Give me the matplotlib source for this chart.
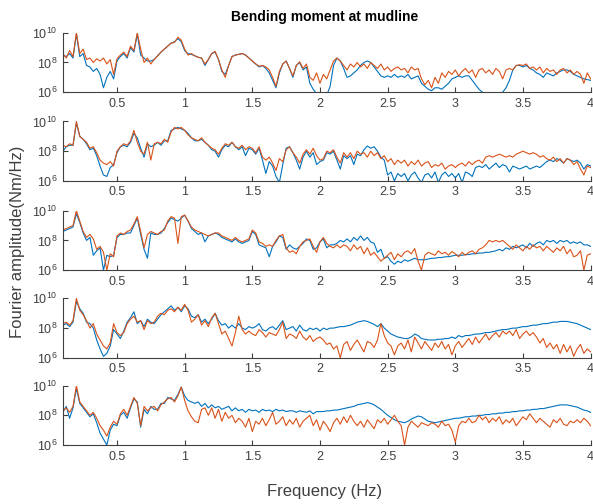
import numpy as np
import matplotlib.pyplot as plt

plt.rcParams['font.family'] = ['Liberation Sans', 'DejaVu Sans']
plt.rcParams['mathtext.fontset'] = 'custom'
plt.rcParams['mathtext.rm'] = 'Liberation Sans'

# frequency grid (Hz), 0.1 to 4.0 in steps of 0.025
freq = np.round(np.arange(0.1, 4.0001, 0.025), 3)

# log10 of Fourier amplitude (4 values per 0.1 Hz)
p1_blue = [8.5, 8.4, 8.6, 8.3, 9.9, 8.4, 8.6, 7.8, 7.7, 7.4, 7.6, 7.2, 6.3, 7.0, 7.4, 6.9,
           8.1, 8.4, 8.6, 8.3, 9.0, 8.7, 9.9, 8.5, 8.3, 8.1, 8.1, 8.2, 8.45, 8.7, 8.9, 9.1,
           9.3, 9.4, 9.6, 9.4, 8.8, 8.6, 8.55, 8.45, 8.35, 8.3, 7.8, 8.2, 8.6, 8.7, 8.2, 7.4,
           7.2, 7.8, 8.4, 8.5, 8.55, 8.6, 8.5, 8.3, 8.1, 7.9, 7.7, 7.8, 7.6, 7.3, 6.8, 6.3,
           7.3, 7.9, 8.1, 7.6, 7.0, 7.8, 8.0, 7.5, 7.7, 6.6, 6.2, 5.9, 5.8, 5.9, 5.8, 6.4,
           7.8, 8.3, 8.1, 7.6, 7.0, 7.1, 7.3, 7.5, 7.8, 8.0, 8.1, 8.0, 7.7, 7.4, 7.1, 7.0,
           7.1, 7.0, 7.2, 7.0, 7.1, 7.0, 7.2, 6.9, 7.0, 7.1, 6.6, 6.4, 6.2, 6.1, 6.3, 6.3,
           6.2, 6.4, 6.6, 6.9, 7.0, 7.1, 7.0, 7.1, 7.1, 6.8, 6.5, 6.2, 6.0, 5.9, 5.9, 5.9,
           5.95, 5.9, 6.0, 6.3, 6.8, 7.5, 7.8, 7.8, 7.7, 7.8, 7.6, 7.5, 7.3, 7.2, 7.0, 7.3,
           7.2, 7.1, 7.3, 7.4, 7.5, 7.5, 7.4, 7.2, 7.1, 7.0, 6.9, 6.85, 6.8]
p1_orange = [8.6, 8.3, 8.8, 8.4, 10.0, 8.6, 8.9, 8.2, 8.3, 8.0, 8.25, 8.1, 8.3, 7.9, 8.2, 7.2,
             8.25, 8.5, 8.7, 8.4, 9.1, 8.8, 10.0, 8.9, 8.0, 8.3, 7.9, 8.2, 8.45, 8.7, 8.9, 9.1,
             9.3, 9.35, 9.7, 9.5, 8.9, 8.5, 8.6, 8.45, 8.35, 8.3, 7.9, 8.2, 8.6, 8.75, 8.2, 7.5,
             7.0, 7.8, 8.4, 8.5, 8.55, 8.6, 8.5, 8.3, 8.1, 7.9, 7.75, 7.8, 7.7, 7.5, 7.0, 6.4,
             7.4, 7.9, 8.1, 7.6, 7.1, 7.8, 8.05, 7.6, 7.9, 7.0, 6.8, 7.3, 6.6, 7.2, 6.9, 7.5,
             8.1, 8.3, 8.1, 7.8, 7.5, 7.9, 7.7, 8.0, 7.7, 7.9, 7.6, 8.0, 7.8, 7.6, 7.9, 7.5,
             7.7, 7.4, 7.6, 7.7, 7.5, 7.6, 7.3, 7.7, 7.5, 7.6, 6.9, 6.5, 6.8, 6.3, 7.0, 6.6,
             7.3, 7.0, 7.4, 7.2, 7.5, 7.1, 7.4, 7.6, 7.3, 7.5, 7.0, 7.5, 7.6, 7.3, 7.5, 7.2,
             7.6, 7.4, 6.9, 7.5, 7.6, 7.5, 7.8, 7.85, 7.8, 7.9, 7.6, 7.7, 7.5, 7.7, 7.3, 7.6,
             7.4, 7.5, 7.2, 7.5, 7.6, 7.3, 7.5, 7.2, 7.4, 7.2, 6.6, 7.3, 6.9]

p2_blue = [8.0, 8.3, 8.4, 8.4, 9.9, 9.0, 8.8, 8.5, 8.1, 8.2, 7.7, 7.0, 6.4, 6.3, 6.9, 7.1,
           7.9, 8.3, 8.4, 8.3, 8.6, 9.2, 8.9, 8.2, 7.6, 8.5, 8.3, 8.4, 8.6, 8.4, 8.7, 8.7,
           9.4, 9.5, 9.6, 9.5, 9.4, 9.2, 8.9, 8.7, 8.7, 8.8, 8.6, 8.4, 8.1, 8.0, 7.6, 8.1,
           8.4, 8.3, 8.6, 8.3, 8.1, 8.3, 7.7, 8.2, 8.1, 7.8, 8.2, 7.4, 6.5, 7.3, 7.0, 6.3,
           5.9, 7.1, 8.2, 8.3, 7.9, 7.4, 6.8, 7.6, 8.0, 7.6, 7.9, 7.1, 7.3, 7.4, 7.9, 7.8,
           8.0, 7.4, 6.8, 7.7, 7.5, 7.7, 7.1, 7.8, 7.7, 8.1, 8.35, 8.2, 8.3, 8.0, 7.6, 7.4,
           6.4, 6.6, 6.0, 6.5, 6.3, 6.5, 6.0, 6.4, 6.6, 6.2, 5.9, 6.4, 6.5, 6.2, 6.6, 5.9,
           6.4, 6.6, 6.3, 6.5, 6.2, 6.5, 5.9, 6.6, 6.5, 6.3, 6.9, 7.0, 6.9, 7.1, 6.8, 7.0,
           7.2, 6.9, 7.1, 7.0, 6.6, 7.0, 6.9, 6.8, 6.9, 7.0, 6.8, 6.9, 7.0, 6.9, 7.1, 7.3,
           7.4, 7.3, 7.5, 7.4, 7.2, 7.5, 7.4, 7.3, 7.4, 7.2, 6.8, 7.1, 7.0]
p2_orange = [8.4, 8.3, 8.5, 8.4, 10.0, 9.0, 8.8, 8.6, 8.2, 8.3, 7.9, 7.4, 7.2, 7.1, 7.3, 7.0,
             8.0, 8.3, 8.5, 8.4, 8.7, 9.4, 8.6, 8.0, 7.8, 8.6, 7.4, 8.5, 8.6, 8.5, 8.8, 8.6,
             9.3, 9.6, 9.5, 9.6, 9.4, 9.1, 8.9, 8.8, 8.7, 8.9, 8.6, 8.4, 8.2, 8.1, 7.8, 8.2,
             8.5, 8.4, 8.6, 8.3, 8.2, 8.4, 8.1, 8.3, 8.2, 7.9, 8.3, 7.6, 7.4, 7.6, 7.2, 6.7,
             7.5, 7.3, 8.1, 8.3, 7.9, 7.6, 7.2, 7.8, 8.1, 7.8, 8.2, 7.7, 7.4, 7.5, 8.0, 7.9,
             8.1, 7.6, 7.2, 7.9, 7.6, 7.9, 7.5, 8.0, 7.8, 7.9, 7.6, 8.0, 7.7, 7.9, 7.5, 7.7,
             7.3, 7.5, 7.1, 7.4, 7.2, 7.4, 7.0, 7.3, 7.1, 7.4, 7.0, 7.2, 7.3, 6.9, 7.1, 7.0,
             7.2, 6.8, 7.0, 7.1, 6.9, 7.1, 7.2, 7.0, 7.3, 7.1, 7.3, 7.4, 7.2, 7.6, 7.7, 7.6,
             7.7, 7.8, 7.7, 7.6, 7.7, 7.6, 7.8, 7.9, 8.0, 7.9, 7.8, 7.9, 7.8, 7.6, 7.7, 7.5,
             7.4, 7.6, 7.3, 7.5, 7.2, 7.5, 7.4, 7.1, 7.3, 6.8, 6.4, 7.0, 6.9]

p3_blue = [8.6, 8.7, 8.8, 8.9, 9.8, 9.2, 8.5, 8.0, 8.2, 7.0, 7.3, 7.5, 6.0, 7.0, 6.9, 7.0,
           8.2, 8.4, 8.4, 8.5, 8.5, 9.0, 9.5, 8.4, 7.4, 6.8, 8.5, 8.4, 8.4, 8.5, 8.8, 9.2,
           9.5, 9.4, 9.3, 9.5, 9.7, 9.3, 8.8, 8.6, 8.4, 8.5, 7.9, 8.3, 8.4, 8.5, 8.4, 8.2,
           8.1, 8.0, 7.9, 8.1, 7.9, 7.8, 7.9, 8.0, 8.6, 8.4, 7.7, 7.6, 7.5, 6.9, 7.6, 7.9,
           8.3, 8.2, 7.4, 7.7, 7.5, 7.4, 7.6, 7.8, 8.1, 8.0, 7.4, 7.5, 7.9, 8.1, 7.5, 7.7,
           7.7, 7.8, 8.0, 7.9, 8.1, 7.9, 8.2, 8.0, 8.3, 8.0, 8.2, 7.9, 7.8, 7.2, 7.4, 6.8,
           6.9, 6.6, 6.4, 6.6, 6.5, 6.7, 6.6, 6.7, 6.8, 6.7, 6.7, 6.7, 6.75, 6.8, 6.8, 6.85,
           6.85, 6.9, 6.9, 6.95, 7.0, 7.0, 7.0, 7.05, 7.05, 7.1, 7.1, 7.15, 7.15, 7.2, 7.2, 7.25,
           7.3, 7.4, 7.3, 7.5, 7.4, 7.6, 7.5, 7.6, 7.7, 7.5, 7.8, 7.6, 7.8, 7.9, 7.7, 8.0,
           7.9, 8.0, 7.8, 8.0, 7.9, 8.0, 7.8, 7.9, 7.8, 7.9, 7.7, 7.7, 7.6]
p3_orange = [8.7, 8.8, 8.9, 9.0, 10.0, 9.3, 8.6, 8.2, 8.4, 8.1, 7.4, 7.6, 7.2, 6.0, 7.1, 6.9,
             8.3, 8.5, 8.4, 8.6, 8.7, 9.1, 9.6, 8.6, 7.5, 8.4, 8.6, 8.5, 8.4, 8.6, 8.7, 9.3,
             9.6, 9.5, 7.8, 9.6, 9.7, 9.3, 8.9, 8.7, 8.6, 8.5, 8.4, 8.3, 8.4, 8.5, 8.5, 8.3,
             8.2, 8.1, 8.0, 8.2, 8.0, 7.9, 8.0, 8.1, 8.7, 8.5, 7.9, 7.8, 7.6, 7.7, 7.6, 8.0,
             8.3, 8.4, 7.5, 7.2, 7.3, 7.1, 7.6, 7.9, 8.0, 8.1, 7.6, 7.2, 7.9, 8.2, 7.8, 7.6,
             7.5, 7.7, 7.5, 7.7, 7.6, 7.3, 7.7, 7.4, 7.6, 7.1, 7.5, 7.0, 7.2, 6.9, 6.6, 6.8,
             7.0, 7.2, 6.7, 7.1, 6.9, 7.2, 7.3, 7.1, 7.45, 6.6, 6.0, 7.0, 7.2, 7.1, 7.0, 7.3,
             7.1, 7.2, 7.0, 7.25, 7.1, 6.9, 7.2, 7.0, 7.2, 7.3, 7.1, 7.4, 7.5, 7.7, 8.0, 7.9,
             8.0, 7.9, 8.0, 7.8, 7.6, 7.4, 7.7, 7.5, 7.3, 7.6, 7.4, 7.7, 7.5, 7.6, 7.3, 7.6,
             7.4, 7.2, 7.5, 7.3, 7.6, 7.1, 7.4, 6.9, 7.0, 7.3, 6.0, 7.0, 7.1]

p4_blue = [8.2, 8.3, 8.1, 8.4, 9.8, 9.3, 9.0, 8.4, 8.3, 8.0, 7.2, 6.6, 6.1, 6.3, 6.8, 7.9,
           7.6, 7.3, 7.8, 8.4, 8.7, 9.1, 8.3, 8.5, 8.1, 8.6, 8.4, 8.3, 8.6, 8.9, 9.1, 9.3,
           9.5, 9.2, 9.4, 9.1, 9.5, 9.3, 8.8, 8.7, 8.9, 8.4, 8.6, 8.3, 8.6, 9.0, 8.5, 8.2,
           8.3, 8.0, 8.2, 8.0, 8.3, 8.0, 7.9, 8.1, 8.0, 8.1, 8.3, 7.9, 7.8, 8.0, 8.1, 7.9,
           8.2, 8.5, 7.9, 8.0, 8.1, 7.8, 8.2, 7.9, 7.8, 8.0, 7.9, 8.0, 7.8, 8.0, 7.9, 8.0,
           8.0, 8.05, 8.1, 8.1, 8.15, 8.2, 8.3, 8.4, 8.45, 8.5, 8.45, 8.35, 8.25, 8.1, 8.3, 8.0,
           7.8, 7.6, 7.5, 7.4, 7.35, 7.3, 7.3, 7.4, 7.6, 7.5, 7.3, 7.25, 7.2, 7.2, 7.2, 7.25,
           7.25, 7.3, 7.3, 7.4, 7.3, 7.5, 7.4, 7.5, 7.5, 7.55, 7.6, 7.6, 7.65, 7.7, 7.7, 7.75,
           7.8, 7.85, 7.9, 7.9, 7.95, 8.0, 8.0, 8.05, 8.1, 8.1, 8.15, 8.2, 8.2, 8.25, 8.3, 8.3,
           8.35, 8.4, 8.4, 8.45, 8.45, 8.45, 8.4, 8.35, 8.3, 8.2, 8.1, 8.0, 7.9]
p4_orange = [8.3, 8.4, 8.2, 8.5, 10.0, 9.2, 8.9, 8.5, 8.0, 8.3, 7.6, 7.2, 6.8, 6.6, 7.0, 8.3,
             7.7, 7.5, 7.7, 8.3, 8.6, 8.8, 8.4, 8.5, 7.9, 8.5, 8.3, 8.4, 8.8, 9.0, 8.9, 9.2,
             9.3, 9.1, 9.4, 9.2, 9.6, 9.2, 8.4, 8.6, 8.9, 8.2, 8.5, 8.1, 8.7, 9.0, 8.3, 7.6,
             7.8, 7.3, 6.8, 7.7, 8.8, 7.9, 7.6, 7.8, 7.6, 7.5, 7.9, 7.7, 7.4, 7.7, 7.6, 7.5,
             7.9, 8.4, 7.3, 7.6, 7.5, 7.3, 7.8, 7.4, 7.2, 7.5, 7.1, 7.3, 7.4, 7.2, 6.9, 7.0,
             6.6, 6.8, 6.0, 6.9, 7.1, 6.5, 6.9, 7.2, 6.8, 6.4, 7.1, 7.0, 6.7, 7.2, 8.3, 7.5,
             7.0, 6.8, 6.2, 6.8, 7.0, 6.6, 7.2, 6.4, 7.4, 7.0, 6.6, 7.1, 6.8, 6.5, 7.0, 6.7,
             7.1, 6.6, 6.9, 6.2, 6.8, 7.1, 6.7, 7.0, 7.3, 6.9, 7.4, 7.0, 7.3, 7.6, 7.2, 7.5,
             7.7, 7.4, 7.8, 7.6, 7.8, 7.5, 7.9, 7.3, 7.6, 7.8, 7.5, 7.7, 7.4, 7.0, 7.3, 6.7,
             7.0, 6.6, 6.9, 6.3, 6.9, 6.4, 6.8, 6.1, 6.6, 6.9, 6.3, 6.6, 6.4]

p5_blue = [8.2, 8.6, 7.8, 8.5, 9.8, 8.8, 8.5, 8.2, 7.9, 8.1, 7.5, 6.8, 6.4, 6.0, 7.0, 7.4,
           7.3, 8.0, 8.2, 7.8, 8.5, 9.1, 8.9, 7.2, 8.4, 8.1, 8.6, 8.4, 8.4, 8.8, 8.8, 9.2,
           9.1, 9.0, 9.4, 9.9, 9.3, 9.0, 8.9, 8.8, 8.9, 8.6, 8.8, 8.5, 8.7, 8.5, 8.6, 8.4,
           8.5, 8.6, 8.3, 8.5, 8.3, 8.4, 8.2, 8.4, 8.3, 8.35, 8.2, 8.4, 8.3, 8.35, 8.25, 8.4,
           8.3, 8.35, 8.25, 8.3, 8.3, 8.2, 8.3, 8.25, 8.2, 8.3, 8.1, 8.25, 8.25, 8.25, 8.3, 8.3,
           8.35, 8.35, 8.4, 8.45, 8.5, 8.55, 8.6, 8.7, 8.75, 8.8, 8.85, 8.8, 8.7, 8.55, 8.4, 8.2,
           8.0, 7.85, 7.7, 7.6, 7.55, 7.5, 7.6, 7.75, 7.85, 7.95, 7.9, 7.75, 7.6, 7.55, 7.5, 7.55,
           7.6, 7.65, 7.7, 7.75, 7.8, 7.8, 7.85, 7.9, 7.9, 7.95, 7.95, 8.0, 8.0, 8.05, 8.05, 8.1,
           8.1, 8.15, 8.15, 8.2, 8.2, 8.25, 8.25, 8.3, 8.3, 8.35, 8.35, 8.4, 8.4, 8.45, 8.45, 8.5,
           8.55, 8.6, 8.65, 8.7, 8.7, 8.7, 8.65, 8.6, 8.55, 8.45, 8.35, 8.3, 8.2]
p5_orange = [8.3, 8.5, 8.2, 8.6, 10.0, 8.9, 8.6, 8.3, 8.0, 8.2, 7.8, 7.3, 7.0, 6.6, 7.2, 7.6,
             7.4, 8.1, 8.4, 8.0, 8.6, 9.2, 8.8, 7.3, 8.6, 8.3, 8.5, 8.6, 8.3, 8.7, 8.9, 9.1,
             9.2, 8.9, 9.3, 9.9, 9.0, 8.3, 7.9, 7.6, 7.5, 8.4, 8.5, 8.0, 8.5, 7.8, 8.4, 7.6,
             8.2, 7.8, 8.0, 7.5, 7.8, 7.6, 7.2, 7.8, 6.9, 7.6, 7.4, 7.8, 7.3, 7.7, 8.2, 7.4,
             7.6, 7.9, 7.3, 7.7, 7.4, 7.8, 7.2, 7.6, 7.8, 8.0, 7.3, 7.7, 7.0, 7.6, 7.3, 6.9,
             7.5, 7.8, 7.4, 7.9, 7.5, 8.0, 7.6, 7.3, 7.6, 7.2, 7.7, 7.4, 7.1, 7.7, 7.5, 7.8,
             7.4, 7.7, 8.0, 7.6, 7.3, 6.0, 7.2, 7.6, 7.4, 7.2, 7.5, 7.4, 7.3, 7.5, 7.4, 7.2,
             7.6, 7.3, 7.4, 7.0, 6.2, 7.3, 7.6, 7.5, 7.8, 7.5, 7.6, 8.0, 7.7, 7.9, 7.5, 7.8,
             7.6, 7.9, 7.4, 7.7, 7.5, 7.8, 7.3, 7.6, 7.9, 7.7, 8.1, 7.8, 7.5, 7.8, 7.6, 7.4,
             7.2, 7.7, 7.5, 7.8, 7.4, 7.3, 7.6, 7.5, 7.7, 7.5, 7.8, 7.6, 7.3]

panels = [(p1_blue, p1_orange), (p2_blue, p2_orange), (p3_blue, p3_orange),
          (p4_blue, p4_orange), (p5_blue, p5_orange)]

blue = '#0072BD'
orange = '#D95319'
grey = '#404040'

fig = plt.figure(figsize=(5.93, 5.04), dpi=100)

bottoms = [0.817, 0.641, 0.464, 0.290, 0.117]
for b, (yb, yo) in zip(bottoms, panels):
    ax = fig.add_axes([0.106, b, 0.890, 0.118])
    ax.plot(freq, 10.0 ** np.array(yb), color=blue, lw=0.8)
    ax.plot(freq, 10.0 ** np.array(yo), color=orange, lw=0.8)
    ax.set_yscale('log')
    ax.set_ylim(1e6, 1e10)
    ax.set_xlim(0.1, 4)
    ax.set_yticks([1e6, 1e8, 1e10])
    ax.set_xticks([0.5, 1, 1.5, 2, 2.5, 3, 3.5, 4])
    ax.set_xticklabels(['0.5', '1', '1.5', '2', '2.5', '3', '3.5', '4'])
    ax.spines['top'].set_visible(False)
    ax.spines['right'].set_visible(False)
    for s in ['left', 'bottom']:
        ax.spines[s].set_color(grey)
        ax.spines[s].set_linewidth(0.8)
    ax.tick_params(direction='in', length=3.5, width=0.8, colors=grey,
                   labelsize=9, pad=4)
    ax.tick_params(which='minor', direction='in', length=2, width=0.6, colors='black')

fig.text(0.548, 0.967, 'Bending moment at mudline', ha='center', va='center',
         fontsize=10, fontweight='bold')
fig.text(0.548, 0.025, 'Frequency (Hz)', ha='center', va='center',
         fontsize=12, color=grey)
fig.text(0.03, 0.52, 'Fourier amplitude(Nm/Hz)', ha='center', va='center',
         rotation=90, fontsize=12, color=grey)

fig.savefig('out.png', dpi=100)
